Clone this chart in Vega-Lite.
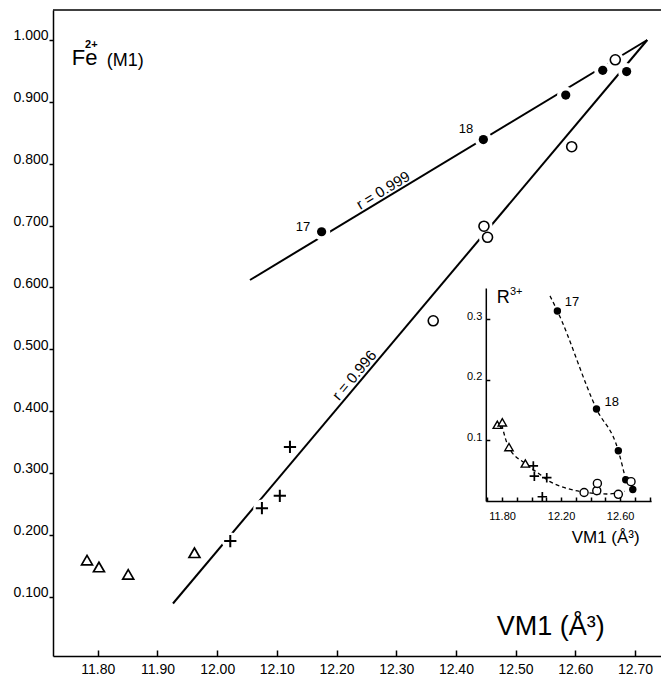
{
  "$schema": "https://vega.github.io/schema/vega-lite/v6.json",
  "width": 608,
  "height": 646,
  "autosize": {"type": "none"},
  "padding": {"left": 53, "top": 10, "right": 0, "bottom": 23},
  "background": "white",
  "config": {
    "view": {"stroke": null},
    "font": "Liberation Sans",
    "axis": {"grid": false, "domainColor": "#000", "tickColor": "#000", "labelColor": "#000", "domainWidth": 1.5, "tickWidth": 1.5}
  },
  "datasets": {
    "mainLines": [
      {"line": "upper", "x": 12.055, "y": 0.612},
      {"line": "upper", "x": 12.7206, "y": 1.0},
      {"line": "lower", "x": 11.926, "y": 0.089},
      {"line": "lower", "x": 12.7206, "y": 1.0}
    ],
    "mainPoints": [
      {"type": "dot", "x": 12.175, "y": 0.690},
      {"type": "dot", "x": 12.446, "y": 0.839},
      {"type": "dot", "x": 12.584, "y": 0.911},
      {"type": "dot", "x": 12.646, "y": 0.951},
      {"type": "dot", "x": 12.686, "y": 0.949},
      {"type": "circle", "x": 12.667, "y": 0.968},
      {"type": "circle", "x": 12.594, "y": 0.8275},
      {"type": "circle", "x": 12.447, "y": 0.699},
      {"type": "circle", "x": 12.453, "y": 0.681},
      {"type": "circle", "x": 12.362, "y": 0.546},
      {"type": "cross", "x": 12.122, "y": 0.342},
      {"type": "cross", "x": 12.105, "y": 0.263},
      {"type": "cross", "x": 12.075, "y": 0.243},
      {"type": "cross", "x": 12.022, "y": 0.190},
      {"type": "triangle", "x": 11.782, "y": 0.159},
      {"type": "triangle", "x": 11.802, "y": 0.148},
      {"type": "triangle", "x": 11.851, "y": 0.136},
      {"type": "triangle", "x": 11.962, "y": 0.171}
    ],
    "insetPoints": [
      {"type": "dot", "x": 12.175, "y": 0.314},
      {"type": "dot", "x": 12.44, "y": 0.152},
      {"type": "dot", "x": 12.588, "y": 0.083},
      {"type": "dot", "x": 12.638, "y": 0.035},
      {"type": "dot", "x": 12.686, "y": 0.019},
      {"type": "circle", "x": 12.356, "y": 0.014},
      {"type": "circle", "x": 12.442, "y": 0.017},
      {"type": "circle", "x": 12.446, "y": 0.029},
      {"type": "circle", "x": 12.588, "y": 0.011},
      {"type": "circle", "x": 12.674, "y": 0.032},
      {"type": "triangle", "x": 11.768, "y": 0.126},
      {"type": "triangle", "x": 11.802, "y": 0.130},
      {"type": "triangle", "x": 11.847, "y": 0.089},
      {"type": "triangle", "x": 11.958, "y": 0.062},
      {"type": "cross", "x": 12.012, "y": 0.058},
      {"type": "cross", "x": 12.019, "y": 0.041},
      {"type": "cross", "x": 12.103, "y": 0.0385},
      {"type": "cross", "x": 12.073, "y": 0.007}
    ],
    "insetCurves": [
      {"curve": "A", "x": 12.125, "y": 0.339},
      {"curve": "A", "x": 12.175, "y": 0.314},
      {"curve": "A", "x": 12.44, "y": 0.152},
      {"curve": "A", "x": 12.588, "y": 0.083},
      {"curve": "A", "x": 12.638, "y": 0.035},
      {"curve": "B", "x": 11.798, "y": 0.126},
      {"curve": "B", "x": 11.843, "y": 0.090},
      {"curve": "B", "x": 11.956, "y": 0.062},
      {"curve": "B", "x": 12.035, "y": 0.048},
      {"curve": "B", "x": 12.125, "y": 0.032},
      {"curve": "B", "x": 12.238, "y": 0.021},
      {"curve": "B", "x": 12.351, "y": 0.015},
      {"curve": "B", "x": 12.51, "y": 0.0116},
      {"curve": "B", "x": 12.63, "y": 0.016}
    ]
  },
  "layer": [
    {
      "data": {"name": "mainLines"},
      "mark": {"type": "line", "color": "black", "strokeWidth": 2},
      "encoding": {
        "x": {"field": "x", "type": "quantitative", "scale": {"domain": [11.725, 12.7436], "nice": false, "zero": false},
          "axis": {"orient": "bottom", "title": null, "values": [11.8, 11.9, 12.0, 12.1, 12.2, 12.3, 12.4, 12.5, 12.6, 12.7], "format": ".2f", "tickSize": -6, "labelPadding": 12, "labelBaseline": "top", "labelFontSize": 14, "labelFlush": false, "labelOverlap": false}},
        "y": {"field": "y", "type": "quantitative", "scale": {"domain": [0.0041, 1.0485], "nice": false, "zero": false},
          "axis": {"orient": "left", "title": null, "values": [0.1, 0.2, 0.3, 0.4, 0.5, 0.6, 0.7, 0.8, 0.9, 1.0], "format": ".3f", "tickSize": 4, "labelPadding": 1, "labelBaseline": "alphabetic", "labelFontSize": 14, "labelFlush": false, "labelOverlap": false}},
        "detail": {"field": "line", "type": "nominal"}
      }
    },
    {
      "data": {"values": [{"x": 11.725, "y": 1.0485}, {"x": 12.7436, "y": 1.0485}]},
      "mark": {"type": "line", "color": "black", "strokeWidth": 1.5},
      "encoding": {
        "x": {"field": "x", "type": "quantitative", "scale": {"domain": [11.725, 12.7436], "nice": false, "zero": false}, "axis": null},
        "y": {"field": "y", "type": "quantitative", "scale": {"domain": [0.0041, 1.0485], "nice": false, "zero": false}, "axis": null}
      }
    },
    {
      "data": {"name": "mainPoints"},
      "transform": [{"filter": "datum.type != 'triangle'"}],
      "mark": {"type": "point", "shape": "circle", "filled": true, "color": "white", "size": 300, "opacity": 1, "strokeWidth": 0},
      "encoding": {
        "x": {"field": "x", "type": "quantitative", "scale": {"domain": [11.725, 12.7436], "nice": false, "zero": false}, "axis": null},
        "y": {"field": "y", "type": "quantitative", "scale": {"domain": [0.0041, 1.0485], "nice": false, "zero": false}, "axis": null}
      }
    },
    {
      "data": {"name": "mainPoints"},
      "transform": [{"filter": "datum.type == 'dot'"}],
      "mark": {"type": "circle", "color": "black", "size": 85, "opacity": 1},
      "encoding": {
        "x": {"field": "x", "type": "quantitative", "scale": {"domain": [11.725, 12.7436], "nice": false, "zero": false}, "axis": null},
        "y": {"field": "y", "type": "quantitative", "scale": {"domain": [0.0041, 1.0485], "nice": false, "zero": false}, "axis": null}
      }
    },
    {
      "data": {"name": "mainPoints"},
      "transform": [{"filter": "datum.type == 'circle'"}],
      "mark": {"type": "point", "shape": "circle", "fill": "white", "stroke": "black", "strokeWidth": 1.6, "size": 100, "opacity": 1},
      "encoding": {
        "x": {"field": "x", "type": "quantitative", "scale": {"domain": [11.725, 12.7436], "nice": false, "zero": false}, "axis": null},
        "y": {"field": "y", "type": "quantitative", "scale": {"domain": [0.0041, 1.0485], "nice": false, "zero": false}, "axis": null}
      }
    },
    {
      "data": {"name": "mainPoints"},
      "transform": [{"filter": "datum.type == 'triangle'"}],
      "mark": {"type": "point", "shape": "triangle-up", "fill": "white", "stroke": "black", "strokeWidth": 1.7, "size": 120, "opacity": 1},
      "encoding": {
        "x": {"field": "x", "type": "quantitative", "scale": {"domain": [11.725, 12.7436], "nice": false, "zero": false}, "axis": null},
        "y": {"field": "y", "type": "quantitative", "scale": {"domain": [0.0041, 1.0485], "nice": false, "zero": false}, "axis": null}
      }
    },
    {
      "data": {"name": "mainPoints"},
      "transform": [{"filter": "datum.type == 'cross'"}],
      "mark": {"type": "point", "shape": "M-1,0H1M0,-1V1", "filled": false, "stroke": "black", "strokeWidth": 2, "size": 150, "opacity": 1},
      "encoding": {
        "x": {"field": "x", "type": "quantitative", "scale": {"domain": [11.725, 12.7436], "nice": false, "zero": false}, "axis": null},
        "y": {"field": "y", "type": "quantitative", "scale": {"domain": [0.0041, 1.0485], "nice": false, "zero": false}, "axis": null}
      }
    },
    {
      "data": {"values": [{"x": 12.144, "y": 0.698, "t": "17"}, {"x": 12.417, "y": 0.856, "t": "18"}]},
      "mark": {"type": "text", "color": "black", "fontSize": 13, "align": "center", "baseline": "middle"},
      "encoding": {
        "x": {"field": "x", "type": "quantitative", "scale": {"domain": [11.725, 12.7436], "nice": false, "zero": false}, "axis": null},
        "y": {"field": "y", "type": "quantitative", "scale": {"domain": [0.0041, 1.0485], "nice": false, "zero": false}, "axis": null},
        "text": {"field": "t"}
      }
    },
    {
      "data": {"values": [{"x": 12.285, "y": 0.746, "t": "r = 0.999"}]},
      "mark": {"type": "text", "color": "black", "fontSize": 15, "align": "center", "baseline": "middle", "angle": -31, "dy": -8},
      "encoding": {
        "x": {"field": "x", "type": "quantitative", "scale": {"domain": [11.725, 12.7436], "nice": false, "zero": false}, "axis": null},
        "y": {"field": "y", "type": "quantitative", "scale": {"domain": [0.0041, 1.0485], "nice": false, "zero": false}, "axis": null},
        "text": {"field": "t"}
      }
    },
    {
      "data": {"values": [{"x": 12.240, "y": 0.4496, "t": "r = 0.996"}]},
      "mark": {"type": "text", "color": "black", "fontSize": 15, "align": "center", "baseline": "middle", "angle": -50, "dy": -8},
      "encoding": {
        "x": {"field": "x", "type": "quantitative", "scale": {"domain": [11.725, 12.7436], "nice": false, "zero": false}, "axis": null},
        "y": {"field": "y", "type": "quantitative", "scale": {"domain": [0.0041, 1.0485], "nice": false, "zero": false}, "axis": null},
        "text": {"field": "t"}
      }
    },
    {
      "data": {"values": [{"x": 11.7564, "y": 0.9596, "t": "Fe"}]},
      "mark": {"type": "text", "color": "black", "fontSize": 22, "align": "left", "baseline": "alphabetic"},
      "encoding": {
        "x": {"field": "x", "type": "quantitative", "scale": {"domain": [11.725, 12.7436], "nice": false, "zero": false}, "axis": null},
        "y": {"field": "y", "type": "quantitative", "scale": {"domain": [0.0041, 1.0485], "nice": false, "zero": false}, "axis": null},
        "text": {"field": "t"}
      }
    },
    {
      "data": {"values": [{"x": 11.7787, "y": 0.9870, "t": "2+"}]},
      "mark": {"type": "text", "color": "black", "fontSize": 11, "fontWeight": "bold", "align": "left", "baseline": "alphabetic"},
      "encoding": {
        "x": {"field": "x", "type": "quantitative", "scale": {"domain": [11.725, 12.7436], "nice": false, "zero": false}, "axis": null},
        "y": {"field": "y", "type": "quantitative", "scale": {"domain": [0.0041, 1.0485], "nice": false, "zero": false}, "axis": null},
        "text": {"field": "t"}
      }
    },
    {
      "data": {"values": [{"x": 11.8151, "y": 0.958, "t": "(M1)"}]},
      "mark": {"type": "text", "color": "black", "fontSize": 18, "align": "left", "baseline": "alphabetic"},
      "encoding": {
        "x": {"field": "x", "type": "quantitative", "scale": {"domain": [11.725, 12.7436], "nice": false, "zero": false}, "axis": null},
        "y": {"field": "y", "type": "quantitative", "scale": {"domain": [0.0041, 1.0485], "nice": false, "zero": false}, "axis": null},
        "text": {"field": "t"}
      }
    },
    {
      "data": {"values": [{"x": 12.4683, "y": 0.038, "t": "VM1 (Å³)"}]},
      "mark": {"type": "text", "color": "black", "fontSize": 27, "align": "left", "baseline": "alphabetic"},
      "encoding": {
        "x": {"field": "x", "type": "quantitative", "scale": {"domain": [11.725, 12.7436], "nice": false, "zero": false}, "axis": null},
        "y": {"field": "y", "type": "quantitative", "scale": {"domain": [0.0041, 1.0485], "nice": false, "zero": false}, "axis": null},
        "text": {"field": "t"}
      }
    },
    {
      "data": {"name": "insetCurves"},
      "mark": {"type": "line", "color": "black", "strokeWidth": 1.3, "strokeDash": [4, 3], "interpolate": "monotone"},
      "encoding": {
        "x": {"field": "x", "type": "quantitative", "scale": {"domain": [11.69, 12.81], "range": [432.8, 598.1], "nice": false, "zero": false},
          "axis": {"orient": "bottom", "title": null, "offset": -155, "values": [11.7, 11.8, 11.9, 12.0, 12.1, 12.2, 12.3, 12.4, 12.5, 12.6, 12.7, 12.8], "labelExpr": "(datum.value == 11.8 || datum.value == 12.2 || datum.value == 12.6) ? format(datum.value, '.2f') : ''", "tickSize": -4, "labelPadding": 13, "labelBaseline": "top", "labelFontSize": 11, "labelFlush": false, "labelOverlap": false}},
        "y": {"field": "y", "type": "quantitative", "scale": {"domain": [0, 0.352], "range": [491, 278], "nice": false, "zero": false},
          "axis": {"orient": "left", "title": null, "offset": -432.8, "values": [0.1, 0.2, 0.3], "format": ".1f", "tickSize": -4, "labelPadding": 8, "labelBaseline": "alphabetic", "labelFontSize": 11, "labelFlush": false, "labelOverlap": false}},
        "detail": {"field": "curve", "type": "nominal"}
      }
    },
    {
      "data": {"name": "insetPoints"},
      "transform": [{"filter": "datum.type == 'dot'"}],
      "mark": {"type": "circle", "color": "black", "size": 55, "opacity": 1},
      "encoding": {
        "x": {"field": "x", "type": "quantitative", "scale": {"domain": [11.69, 12.81], "range": [432.8, 598.1], "nice": false, "zero": false}, "axis": null},
        "y": {"field": "y", "type": "quantitative", "scale": {"domain": [0, 0.352], "range": [491, 278], "nice": false, "zero": false}, "axis": null}
      }
    },
    {
      "data": {"name": "insetPoints"},
      "transform": [{"filter": "datum.type == 'circle'"}],
      "mark": {"type": "point", "shape": "circle", "fill": "white", "stroke": "black", "strokeWidth": 1.4, "size": 65, "opacity": 1},
      "encoding": {
        "x": {"field": "x", "type": "quantitative", "scale": {"domain": [11.69, 12.81], "range": [432.8, 598.1], "nice": false, "zero": false}, "axis": null},
        "y": {"field": "y", "type": "quantitative", "scale": {"domain": [0, 0.352], "range": [491, 278], "nice": false, "zero": false}, "axis": null}
      }
    },
    {
      "data": {"name": "insetPoints"},
      "transform": [{"filter": "datum.type == 'triangle'"}],
      "mark": {"type": "point", "shape": "triangle-up", "fill": "white", "stroke": "black", "strokeWidth": 1.4, "size": 70, "opacity": 1},
      "encoding": {
        "x": {"field": "x", "type": "quantitative", "scale": {"domain": [11.69, 12.81], "range": [432.8, 598.1], "nice": false, "zero": false}, "axis": null},
        "y": {"field": "y", "type": "quantitative", "scale": {"domain": [0, 0.352], "range": [491, 278], "nice": false, "zero": false}, "axis": null}
      }
    },
    {
      "data": {"name": "insetPoints"},
      "transform": [{"filter": "datum.type == 'cross'"}],
      "mark": {"type": "point", "shape": "M-1,0H1M0,-1V1", "filled": false, "stroke": "black", "strokeWidth": 1.7, "size": 90, "opacity": 1},
      "encoding": {
        "x": {"field": "x", "type": "quantitative", "scale": {"domain": [11.69, 12.81], "range": [432.8, 598.1], "nice": false, "zero": false}, "axis": null},
        "y": {"field": "y", "type": "quantitative", "scale": {"domain": [0, 0.352], "range": [491, 278], "nice": false, "zero": false}, "axis": null}
      }
    },
    {
      "data": {"values": [{"x": 12.274, "y": 0.329, "t": "17"}, {"x": 12.543, "y": 0.164, "t": "18"}]},
      "mark": {"type": "text", "color": "black", "fontSize": 13, "align": "center", "baseline": "middle"},
      "encoding": {
        "x": {"field": "x", "type": "quantitative", "scale": {"domain": [11.69, 12.81], "range": [432.8, 598.1], "nice": false, "zero": false}, "axis": null},
        "y": {"field": "y", "type": "quantitative", "scale": {"domain": [0, 0.352], "range": [491, 278], "nice": false, "zero": false}, "axis": null},
        "text": {"field": "t"}
      }
    },
    {
      "data": {"values": [{"x": 11.764, "y": 0.327, "t": "R"}]},
      "mark": {"type": "text", "color": "black", "fontSize": 18, "align": "left", "baseline": "alphabetic"},
      "encoding": {
        "x": {"field": "x", "type": "quantitative", "scale": {"domain": [11.69, 12.81], "range": [432.8, 598.1], "nice": false, "zero": false}, "axis": null},
        "y": {"field": "y", "type": "quantitative", "scale": {"domain": [0, 0.352], "range": [491, 278], "nice": false, "zero": false}, "axis": null},
        "text": {"field": "t"}
      }
    },
    {
      "data": {"values": [{"x": 11.854, "y": 0.340, "t": "3+"}]},
      "mark": {"type": "text", "color": "black", "fontSize": 11, "align": "left", "baseline": "alphabetic"},
      "encoding": {
        "x": {"field": "x", "type": "quantitative", "scale": {"domain": [11.69, 12.81], "range": [432.8, 598.1], "nice": false, "zero": false}, "axis": null},
        "y": {"field": "y", "type": "quantitative", "scale": {"domain": [0, 0.352], "range": [491, 278], "nice": false, "zero": false}, "axis": null},
        "text": {"field": "t"}
      }
    },
    {
      "data": {"values": [{"x": 12.272, "y": -0.069, "t": "VM1 (Å³)"}]},
      "mark": {"type": "text", "color": "black", "fontSize": 17, "align": "left", "baseline": "alphabetic"},
      "encoding": {
        "x": {"field": "x", "type": "quantitative", "scale": {"domain": [11.69, 12.81], "range": [432.8, 598.1], "nice": false, "zero": false}, "axis": null},
        "y": {"field": "y", "type": "quantitative", "scale": {"domain": [0, 0.352], "range": [491, 278], "nice": false, "zero": false}, "axis": null},
        "text": {"field": "t"}
      }
    }
  ],
  "resolve": {"scale": {"x": "independent", "y": "independent"}, "axis": {"x": "independent", "y": "independent"}}
}
